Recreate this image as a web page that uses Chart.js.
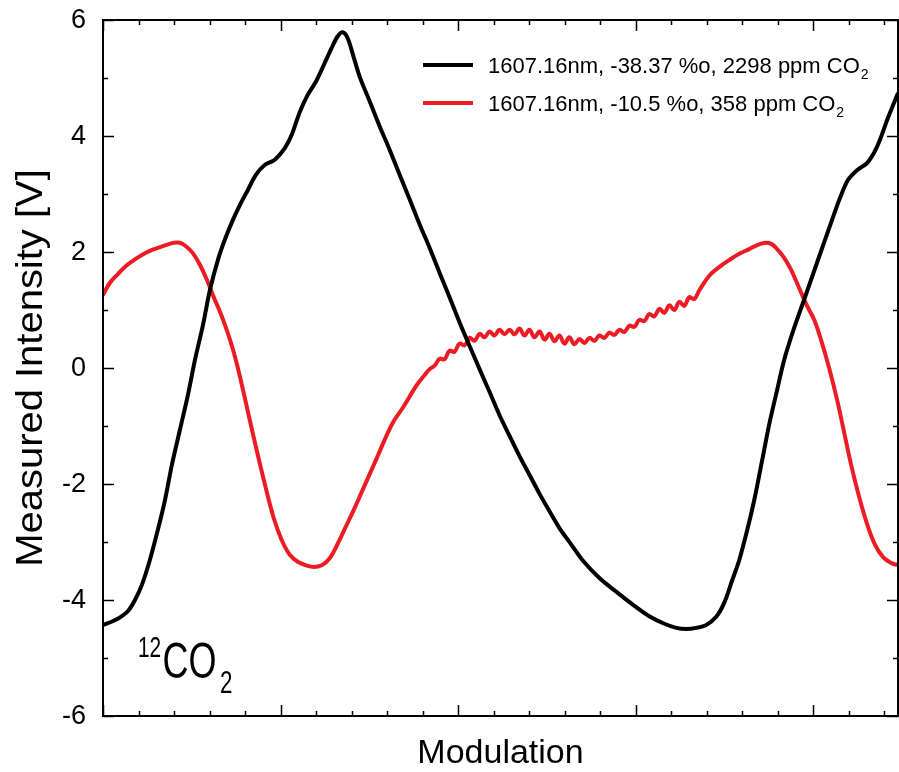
<!DOCTYPE html>
<html>
<head>
<meta charset="utf-8">
<script src="https://cdn.jsdelivr.net/npm/chart.js@4"></script>
<style>
  html, body { margin: 0; padding: 0; background: #fff; }
</style>
</head>
<body>
<canvas id="grafico" width="899" height="772"></canvas>
<script>
// black curve: 1607.16nm, -38.37 %o, 2298 ppm
const blackX = [0, 5.1, 9.6, 14.1, 18.0, 21.9, 26.4, 30.9, 34.9, 38.8, 43.3, 47.8, 51.8, 56.3, 60.2, 64.7, 68.6, 73.1, 77.1, 81.6,
  86.1, 91.1, 96.8, 102.4, 106.3, 110.8, 115.3, 119.8, 124.3, 128.8, 132.2, 135.0, 137.8, 141.2, 144.6, 150.2, 155.8, 161.5, 167.1, 172.7,
  178.3, 184.0, 189.6, 195.2, 200.8, 206.5, 212.1, 217.7, 223.3, 229.0, 234.6, 240.2, 245.9, 251.5, 257.1, 263.9, 270.0, 279.6, 289.2, 299.3,
  307.7, 316.2, 322.9, 328.6, 334.2, 339.8, 345.4, 349.9, 354.4, 358.4, 362.9, 366.8, 371.3, 375.2, 379.7, 383.7, 389.3, 396.1, 401.1, 406.7,
  411.2, 415.1, 419.6, 424.7, 430.3, 434.3, 437.6, 442.1, 447.8];
const blackY = [-4.43, -4.37, -4.30, -4.19, -4.00, -3.74, -3.31, -2.79, -2.28, -1.67, -1.07, -0.47, 0.14, 0.74, 1.34, 1.86, 2.21, 2.55, 2.81, 3.07,
  3.33, 3.50, 3.59, 3.79, 4.02, 4.41, 4.71, 4.93, 5.22, 5.52, 5.72, 5.79, 5.69, 5.36, 5.02, 4.60, 4.17, 3.76, 3.33, 2.91,
  2.48, 2.07, 1.64, 1.22, 0.79, 0.38, -0.02, -0.41, -0.81, -1.17, -1.52, -1.84, -2.17, -2.47, -2.76, -3.05, -3.31, -3.62, -3.86, -4.10,
  -4.28, -4.41, -4.48, -4.50, -4.48, -4.43, -4.29, -4.05, -3.66, -3.31, -2.79, -2.28, -1.59, -0.98, -0.38, 0.14, 0.69, 1.28, 1.72, 2.21,
  2.60, 2.93, 3.24, 3.41, 3.53, 3.71, 3.93, 4.31, 4.74];

// red curve: 1607.16nm, -10.5 %o, 358 ppm
const redX = [0, 3.9, 8.4, 12.9, 17.4, 21.9, 26.4, 30.9, 35.4, 39.9, 43.3, 46.7, 50.6, 54.6, 58.5, 62.4, 66.4, 70.3, 74.3, 78.2,
  82.7, 87.2, 91.7, 96.2, 100.7, 105.2, 109.7, 114.2, 118.7, 123.2, 127.7, 132.2, 136.7, 141.2, 145.7, 150.2, 154.7, 159.2, 163.7, 168.8,
  172.2, 175.5, 178.3, 181.2, 184.0, 186.8, 189.6, 192.4, 195.2, 198.0, 200.8, 203.7, 206.5, 209.3, 212.1, 214.9, 217.7, 220.5, 223.3, 226.2,
  229.0, 231.8, 234.6, 237.4, 240.2, 243.0, 245.9, 248.7, 251.5, 254.3, 257.1, 259.9, 262.7, 265.5, 268.4, 271.2, 274.0, 276.8, 279.6, 282.4,
  285.2, 288.0, 290.9, 293.7, 296.5, 299.3, 302.1, 304.9, 307.7, 310.5, 313.4, 316.2, 319.0, 321.8, 324.6, 327.4, 330.2, 333.0, 335.9, 341.5,
  347.1, 352.7, 358.4, 364.0, 368.5, 373.0, 376.4, 379.7, 383.7, 387.6, 392.1, 396.6, 400.6, 404.5, 409.0, 413.5, 417.4, 421.4, 425.9, 430.4,
  434.9, 439.4, 443.9, 447.8];
const redY = [1.26, 1.47, 1.62, 1.76, 1.86, 1.95, 2.02, 2.07, 2.12, 2.16, 2.16, 2.10, 1.98, 1.78, 1.52, 1.22, 0.93, 0.60, 0.20, -0.29,
  -0.90, -1.50, -2.07, -2.59, -2.97, -3.22, -3.34, -3.40, -3.43, -3.40, -3.28, -3.03, -2.74, -2.45, -2.14, -1.83, -1.52, -1.20, -0.92, -0.69,
  -0.52, -0.35, -0.23, -0.12, -0.02, 0.04, 0.16, 0.15, 0.30, 0.28, 0.42, 0.39, 0.52, 0.47, 0.59, 0.53, 0.63, 0.56, 0.66, 0.58,
  0.66, 0.58, 0.68, 0.56, 0.66, 0.53, 0.63, 0.49, 0.59, 0.46, 0.56, 0.42, 0.53, 0.41, 0.50, 0.43, 0.52, 0.47, 0.56, 0.52,
  0.61, 0.57, 0.66, 0.62, 0.73, 0.71, 0.83, 0.81, 0.93, 0.89, 1.02, 0.95, 1.08, 1.00, 1.14, 1.07, 1.22, 1.19, 1.34, 1.59,
  1.74, 1.86, 1.97, 2.05, 2.12, 2.16, 2.14, 2.05, 1.90, 1.69, 1.38, 1.07, 0.83, 0.48, 0.00, -0.55, -1.10, -1.67, -2.22, -2.69,
  -3.05, -3.26, -3.36, -3.40];

const yMajor = [-6, -4, -2, 0, 2, 4, 6];
const yMinor = [-5, -3, -1, 1, 3, 5];
const xMajor = [0, 100, 200, 300, 400];
const xMinor = [20, 40, 60, 80, 120, 140, 160, 180, 220, 240, 260, 280, 320, 340, 360, 380, 420, 440];

const seriesNames = ["1607.16nm, -38.37 %o, 2298 ppm CO", "1607.16nm, -10.5 %o, 358 ppm CO"];
const seriesColors = ["#000000", "#ed1c24"];

function toPoints(xs, ys) {
  return xs.map((x, i) => ({ x: x, y: ys[i] }));
}

const FONT = "'Liberation Sans', Arial, Helvetica, sans-serif";

const ejes = {
  id: "ejes",
  afterDatasetsDraw(chart) {
    const ctx = chart.ctx;
    const a = chart.chartArea;
    const sx = chart.scales.x;
    const sy = chart.scales.y;
    ctx.save();
    ctx.strokeStyle = "#000";
    ctx.lineWidth = 2;
    ctx.strokeRect(a.left, a.top, a.right - a.left, a.bottom - a.top);

    const big = 11, small = 5;
    ctx.lineWidth = 1.5;
    ctx.beginPath();
    xMajor.concat(xMinor).forEach((v) => {
      const len = xMajor.includes(v) ? big : small;
      const px = Math.round(sx.getPixelForValue(v)) + 0.5;
      ctx.moveTo(px, a.bottom); ctx.lineTo(px, a.bottom - len);
      ctx.moveTo(px, a.top); ctx.lineTo(px, a.top + len);
    });
    yMajor.concat(yMinor).forEach((v) => {
      const len = yMajor.includes(v) ? big : small;
      const py = Math.round(sy.getPixelForValue(v)) + 0.5;
      ctx.moveTo(a.left, py); ctx.lineTo(a.left + len, py);
      ctx.moveTo(a.right, py); ctx.lineTo(a.right - len, py);
    });
    ctx.stroke();

    // y tick labels
    ctx.fillStyle = "#000";
    ctx.font = "27px " + FONT;
    ctx.textAlign = "right";
    ctx.textBaseline = "middle";
    yMajor.forEach((v) => {
      ctx.fillText(String(v), a.left - 17, sy.getPixelForValue(v) + 1);
    });

    // axis titles
    ctx.font = "34px " + FONT;
    ctx.textAlign = "center";
    ctx.textBaseline = "alphabetic";
    ctx.fillText("Modulation", (a.left + a.right) / 2, 763);

    ctx.save();
    ctx.translate(42, (a.top + a.bottom) / 2);
    ctx.rotate(-Math.PI / 2);
    ctx.scale(1.08, 1);
    ctx.font = "37px " + FONT;
    ctx.fillText("Measured Intensity [V]", 0, 0);
    ctx.restore();

    // legend
    ctx.textAlign = "left";
    const rows = [65, 103];
    seriesNames.forEach((name, i) => {
      const y = rows[i];
      ctx.strokeStyle = seriesColors[i];
      ctx.lineWidth = 4;
      ctx.beginPath();
      ctx.moveTo(423, y); ctx.lineTo(473, y);
      ctx.stroke();
      ctx.font = "22px " + FONT;
      ctx.fillText(name, 488, y + 8);
      const w = ctx.measureText(name).width;
      ctx.font = "14px " + FONT;
      ctx.fillText("2", 488 + w + 1, y + 14);
    });

    // isotope label
    ctx.save();
    ctx.translate(138, 0);
    ctx.scale(0.72, 1);
    ctx.font = "29px " + FONT;
    ctx.fillText("12", 0, 657);
    ctx.font = "50px " + FONT;
    ctx.fillText("CO", 34, 678);
    ctx.font = "31px " + FONT;
    ctx.fillText("2", 114, 693);
    ctx.restore();

    ctx.restore();
  },
};

new Chart(document.getElementById("grafico"), {
  type: "line",
  data: {
    datasets: [
      {
        label: seriesNames[0],
        data: toPoints(blackX, blackY),
        borderColor: seriesColors[0],
        borderWidth: 4,
        pointRadius: 0,
        tension: 0.3,
      },
      {
        label: seriesNames[1],
        data: toPoints(redX, redY),
        borderColor: seriesColors[1],
        borderWidth: 4,
        pointRadius: 0,
        tension: 0.4,
      },
    ],
  },
  options: {
    responsive: false,
    animation: false,
    layout: { padding: { left: 103, top: 20, right: 1, bottom: 56 } },
    plugins: { legend: { display: false }, tooltip: { enabled: false } },
    scales: {
      x: { type: "linear", min: 0, max: 447.8, display: false },
      y: { type: "linear", min: -6, max: 6, display: false },
    },
  },
  plugins: [ejes],
});
</script>
</body>
</html>
